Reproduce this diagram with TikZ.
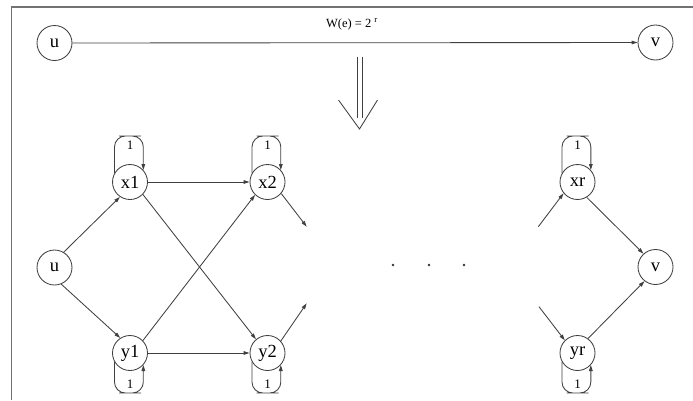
\documentclass[tikz,border=0pt]{standalone}
\usepackage{fontspec}
\setmainfont{Liberation Serif}
\usetikzlibrary{arrows.meta,calc}
\begin{document}
\begin{tikzpicture}[x=1pt,y=-1pt,
  ink/.style={draw=black!75,line width=0.85pt},
  vertex/.style={ink,circle,minimum size=35pt,inner sep=0pt,
    font=\fontsize{18.5}{20}\selectfont},
  edge/.style={ink,-{Stealth[length=6pt,width=3.6pt,inset=0pt]}},
  selfloop/.style={edge,rounded corners=11pt},
  weight/.style={font=\fontsize{13}{14}\selectfont,inner sep=1pt},
  dot/.style={circle,fill=black!80,inner sep=0pt,minimum size=2.6pt}]
\useasboundingbox (0,0) rectangle (693,400);

% frame (only its top and left sides fall inside the page)
\draw[draw=black!55,line width=1.3pt] (11.7,400) -- (11.7,7) -- (693,7);

% single weighted edge
\node[vertex] (u0) at (54.5,43) {u};
\node[vertex] (v0) at (655.5,42.5) {v};
\draw[edge] (u0) -- (v0);
\node[font=\fontsize{12.5}{14}\selectfont] (w) at (352,24) {W(e) = 2\hspace{3pt}\textsuperscript{r}};

% implication arrow
\draw[ink] (357.3,57) -- (357.3,118);
\draw[ink] (362.7,57) -- (362.7,118);
\draw[ink] (338.5,100) -- (359.5,129) -- (377.5,100);

% chain of gadgets
\node[vertex] (u)  at (54.5,267.5) {u};
\node[vertex] (x1) at (130,182) {x1};
\node[vertex] (y1) at (130,353) {y1};
\node[vertex] (x2) at (267.5,182) {x2};
\node[vertex] (y2) at (267.5,353) {y2};
\node[vertex] (xr) at (577.5,182) {xr};
\node[vertex] (yr) at (577.5,353) {yr};
\node[vertex] (v)  at (655.5,267) {v};

\coordinate (x2o) at (306.7,226.7);
\coordinate (y2o) at (306.7,303.3);
\coordinate (xri) at (538.3,226.7);
\coordinate (yri) at (539,306.7);

\draw[edge] (u.59)  -- (x1.236);
\draw[edge] (u.292) -- (y1.123);
\draw[edge] (x1) -- (x2);
\draw[edge] (y1) -- (y2);
\draw[edge] (x1.316) -- (y2.130);
\draw[edge] (y1.44)  -- (x2.226);
\draw[edge] (x2.320) -- (x2o);
\draw[edge] (y2.42)  -- (y2o);
\draw[edge] (xri) -- (xr.219);
\draw[edge] (yri) -- (yr.135);
\draw[edge] (xr.301) -- (v.132);
\draw[edge] (yr.54)  -- (v.232);

% self loops of weight 1
\foreach \n in {x1,x2,xr}{
  \draw[selfloop] (\n.150) |- ($(\n.center)+(0,-46)$)
    node[weight,below=3pt] (l\n) {1} -| (\n.42);
}
\foreach \n in {y1,y2,yr}{
  \draw[selfloop] (\n.210) |- ($(\n.center)+(0,40)$)
    node[weight,above=3pt] (l\n) {1} -| (\n.318);
}

% ellipsis between the gadgets
\node[dot] (d1) at (393,265) {};
\node[dot] (d2) at (429,265) {};
\node[dot] (d3) at (464,265) {};
\end{tikzpicture}
\end{document}
